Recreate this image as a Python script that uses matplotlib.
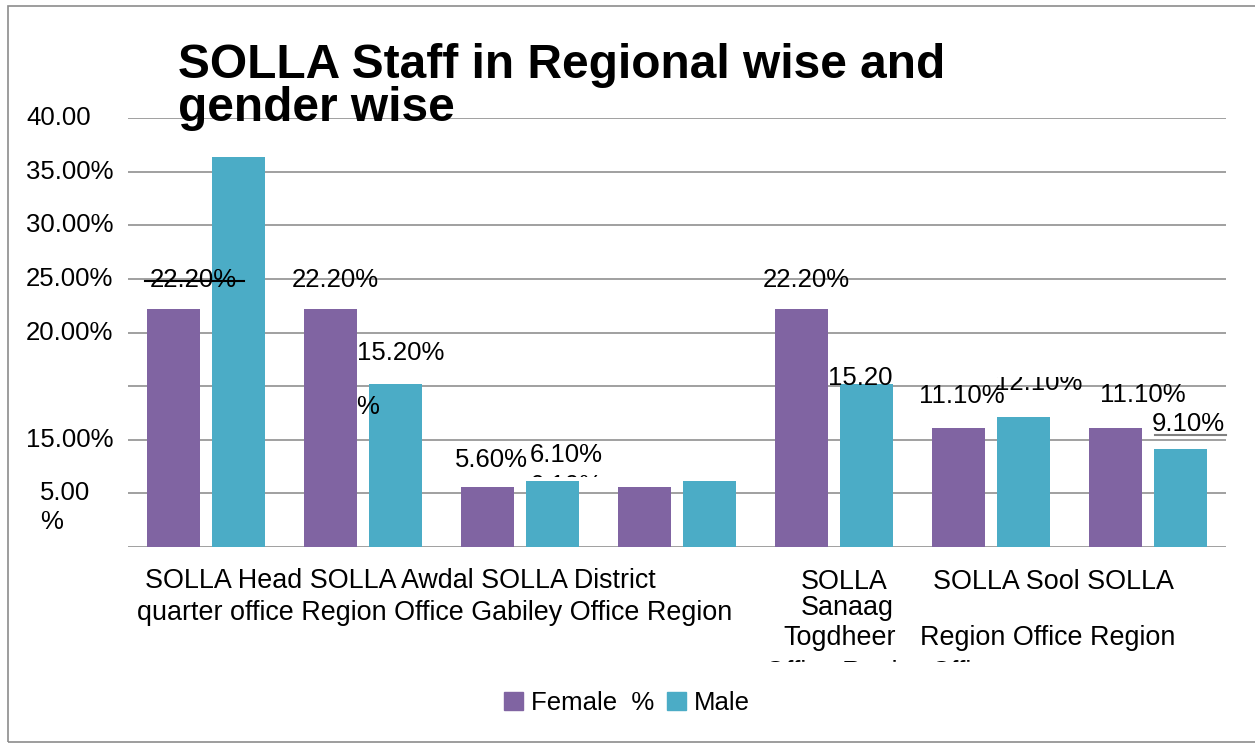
import matplotlib
matplotlib.use("Agg")
import matplotlib.pyplot as plt
from matplotlib.patches import Rectangle, Patch
from matplotlib.lines import Line2D
from matplotlib.transforms import Bbox
import numpy as np

plt.rcParams["font.family"] = ["Liberation Sans", "DejaVu Sans"]

# data
regions = ["SOLLA Head quarter office", "SOLLA Awdal Region Office",
           "SOLLA Gabiley District Office", "SOLLA District Region",
           "SOLLA Sanaag Togdheer Office Region", "SOLLA Sool Region Office",
           "SOLLA Region Office"]
female = [22.2, 22.2, 5.6, 5.6, 22.2, 11.1, 11.1]
male = [36.4, 15.2, 6.1, 6.1, 15.2, 12.1, 9.1]
female_labels = ["22.20%", "22.20%", "5.60%", "", "22.20%", "11.10%", "11.10%"]
male_labels = ["", "15.20%", "6.10%", "", "15.20", "12.10%", "9.10%"]
yticks = [0, 5, 10, 15, 20, 25, 30, 35, 40]
ytick_labels = ["", "5.00\n%", "15.00%", "", "20.00%", "25.00%", "30.00%", "35.00%", "40.00"]

W, H = 1255, 744
PURPLE = "#8064A2"
TEAL = "#4BACC6"
GRID = "#a0a0a0"
FS = 18.5
FS_CAT = 19.4


def fx(x):
    return x / W


def fy(y):
    return 1 - y / H


def clip_px(artist, x0, y0, x1, y1):
    # clip box given in image pixels (top-left origin)
    artist.set_clip_on(True)
    artist.set_clip_box(Bbox.from_extents(x0, H - y1, x1, H - y0))


fig = plt.figure(figsize=(W / 100, H / 100), dpi=100)
ax = fig.add_axes([fx(128), fy(546.7), fx(1226) - fx(128), fy(118.3) - fy(546.7)])

x = np.arange(len(regions))
bw = 0.338
off = 0.207
ax.bar(x - off, female, bw, color=PURPLE, zorder=2)
ax.bar(x + off, male, bw, color=TEAL, zorder=2)

ax.set_xlim(-0.5, len(regions) - 0.5)
ax.set_ylim(0, 40)
for t in yticks:
    ax.axhline(t, color=GRID, lw=1.4, zorder=1)
ax.set_xticks([])
ax.set_yticks([])
for s in ax.spines.values():
    s.set_visible(False)

# y labels (as they appear in the source)
ylab_tr = matplotlib.transforms.blended_transform_factory(fig.transFigure, ax.transData)
for t, lab in zip(yticks, ytick_labels):
    if not lab:
        continue
    if "\n" in lab:
        a, b = lab.split("\n")
        ax.text(fx(40), t, a, transform=ylab_tr, ha="left", va="center", fontsize=FS)
        ax.annotate(b, xy=(fx(40), t), xycoords=ylab_tr, xytext=(0, -29),
                    textcoords="offset pixels", ha="left", va="center", fontsize=FS)
    else:
        ax.text(fx(26), t, lab, transform=ylab_tr, ha="left", va="center", fontsize=FS)

# value labels, offsets in pixels from bar top-centre
f_off = [(19.5, 29), (4.5, 29), (3.5, 27), (0, 0), (5, 29), (3.5, 32), (27.5, 33)]
m_off = [(0, 0), (5, 31), (13.5, 26), (0, 0), (-6.5, 6), (16, 34), (8.5, 25)]
for i in range(len(regions)):
    if female_labels[i]:
        ax.annotate(female_labels[i], xy=(x[i] - off, female[i]), xytext=f_off[i],
                    textcoords="offset pixels", ha="center", va="center",
                    fontsize=FS, zorder=4, annotation_clip=False)
    if male_labels[i]:
        t = ax.annotate(male_labels[i], xy=(x[i] + off, male[i]), xytext=m_off[i],
                        textcoords="offset pixels", ha="center", va="center",
                        fontsize=FS, zorder=4, annotation_clip=False)
        if i == 5:
            clip_px(t, 0, 377, W, H)

# stray pieces of the broken labels
ax.annotate("%", xy=(x[1] + off, male[1]), xytext=(-28, -23), textcoords="offset pixels",
            ha="center", va="center", fontsize=FS, zorder=4)
hidden = ax.annotate("6.10%", xy=(x[2] + off, male[2]), xytext=(13.5, -5),
                     textcoords="offset pixels", ha="center", va="center",
                     fontsize=FS, zorder=4, annotation_clip=False)
clip_px(hidden, 0, 0, W, 477)
fig.add_artist(Line2D([fx(145), fx(244)], [fy(281), fy(281)], color="black", lw=1.5))
fig.add_artist(Line2D([fx(1155), fx(1226)], [fy(435), fy(435)], color="#808080", lw=1.5))

# category labels, wrapped the way the source shows them
fig.text(fx(145), fy(581), "SOLLA Head SOLLA Awdal SOLLA District", ha="left", va="center", fontsize=FS_CAT)
fig.text(fx(137), fy(613), "quarter office Region Office Gabiley Office Region", ha="left", va="center", fontsize=FS_CAT)
fig.text(fx(844), fy(582), "SOLLA", ha="center", va="center", fontsize=FS_CAT)
fig.text(fx(847), fy(608), "Sanaag", ha="center", va="center", fontsize=FS_CAT)
fig.text(fx(840), fy(638), "Togdheer", ha="center", va="center", fontsize=FS_CAT)
fig.text(fx(933), fy(582), "SOLLA Sool SOLLA", ha="left", va="center", fontsize=FS_CAT)
fig.text(fx(920), fy(638), "Region Office Region", ha="left", va="center", fontsize=FS_CAT)
for xx, s in [(765, "Office Region"), (931, "Office")]:
    t = fig.text(fx(xx), fy(673), s, ha="left", va="center", fontsize=FS_CAT)
    clip_px(t, 0, 0, W, 662)

# title
fig.text(fx(178), fy(78), "SOLLA Staff in Regional wise and", ha="left", va="baseline",
         fontsize=34.5, fontweight="bold", zorder=5)
fig.text(fx(178), fy(121), "gender wise", ha="left", va="baseline",
         fontsize=34.5, fontweight="bold", zorder=5)

# legend
fig.legend(handles=[Patch(color=PURPLE, label="Female  %"), Patch(color=TEAL, label="Male")],
           loc="center", bbox_to_anchor=(fx(627), fy(703)), ncol=2, frameon=False,
           handlelength=0.75, handleheight=0.75, handletextpad=0.3, columnspacing=0.5,
           fontsize=FS)

# outer frame (right edge runs off the canvas)
fig.add_artist(Rectangle((fx(8), fy(742)), fx(1262) - fx(8), fy(6) - fy(742),
                         transform=fig.transFigure, fill=False, edgecolor="#8c8c8c", lw=1.2))

fig.savefig("out.png", dpi=100)
